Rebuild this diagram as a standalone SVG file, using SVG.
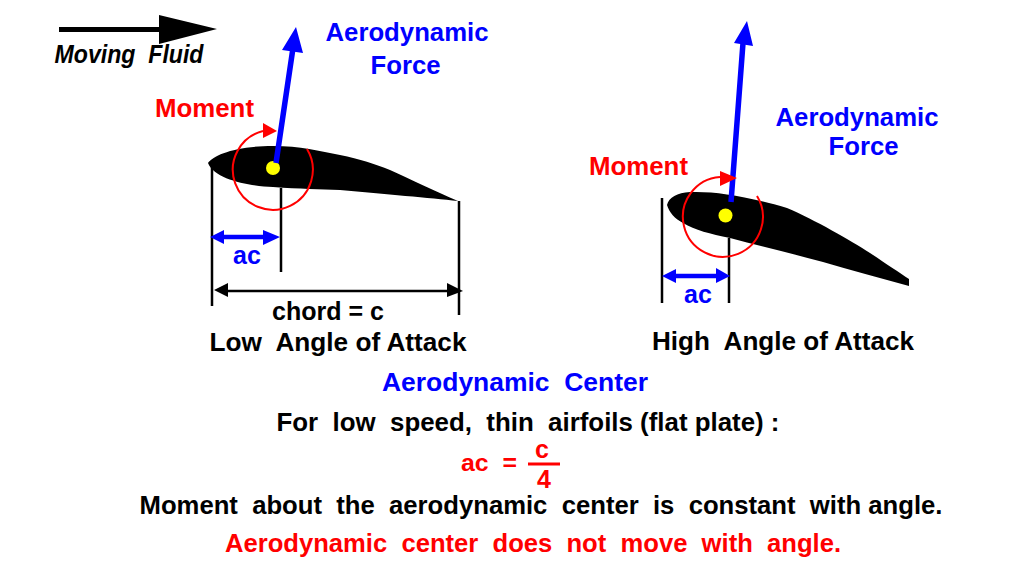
<svg xmlns="http://www.w3.org/2000/svg" width="1032" height="584" viewBox="0 0 1032 584">
<style>
text{font-family:"Liberation Sans",Arial,sans-serif;font-weight:700;font-size:25px;text-anchor:middle;white-space:pre}
.b{fill:#0000ff}.r{fill:#ff0000}.k{fill:#000}
.foil{fill:#000}
.dim{stroke:#000;stroke-width:2.500;fill:none}
.blue{stroke:#0000ff;fill:none}
.red{stroke:#ff0000;stroke-width:2;fill:none}
</style>
<rect width="1032" height="584" fill="#fff"/>
<g id="flow-arrow">
<path d="M59 27H159V15L217 29L159 44V32H59Z" fill="#000"/>
<text x="129" y="63" class="k" style="font-style:italic;font-size:25px" textLength="149" lengthAdjust="spacingAndGlyphs">Moving  Fluid</text>
</g>
<g id="airfoil-low">
<path class="foil" d="M208 163C214 155 235 146 273 146C300 146 320 151 340 155C360 159 375 164 390 170C410 179 435 191 458 201C430 198 385 194 340 190C320 189 300 189 273 187C250 186 215 180 208 163Z"/>
<circle cx="273" cy="168" r="7" fill="#ffff00"/>
</g>
<g id="airfoil-high">
<path class="foil" d="M667 205C669 197 677 193 690 192C715 191 745 196 787 208C815 220 850 240 870 253C885 263 900 273 909 279L909 286C880 278 850 270 823 262C790 253 760 246 730 238C710 234 695 230 683 223C675 219 669 212 667 205Z"/>
<circle cx="725.500" cy="215.500" r="7" fill="#ffff00"/>
</g>
<g id="connectors">
<g class="dim">
<path d="M212 165V306M281 188V272M459 201V315M220 291H455"/>
<path d="M662 198V303M729 238V303"/>
</g>
<path d="M214 290L228 283V297ZM463 291L447 283V297Z" fill="#000"/>
<path class="blue" stroke-width="5.500" d="M276 163L293 48M731 202L743 43"/>
<path class="blue" stroke-width="4.500" d="M218 237H270M670 276H722"/>
<path d="M296 27L303 53L282 50ZM747 21L753 46L734 43ZM210 237L224 230V244ZM280 237L263 230V245ZM662 276L676 269V283ZM730 276L716 268V283Z" fill="#0000ff"/>
<path class="red" d="M307 149A40 40 0 1 1 263 131"/>
<path class="red" d="M757 196A40 40 0 1 1 720 177"/>
<path d="M277 131L263 123V138ZM737 178L720 171V186Z" fill="#ff0000"/>
</g>
<g id="labels">
<text x="407" y="41" class="b" textLength="163" lengthAdjust="spacingAndGlyphs">Aerodynamic</text>
<text x="405.500" y="74" class="b" textLength="70" lengthAdjust="spacingAndGlyphs">Force</text>
<text x="204.500" y="117" class="r" textLength="99" lengthAdjust="spacingAndGlyphs">Moment</text>
<text x="247" y="264" class="b">ac</text>
<text x="328" y="320" class="k" textLength="112" lengthAdjust="spacingAndGlyphs">chord = c</text>
<text x="338" y="351" class="k" textLength="257" lengthAdjust="spacingAndGlyphs">Low  Angle of Attack</text>
<text x="857" y="126" class="b" textLength="163" lengthAdjust="spacingAndGlyphs">Aerodynamic</text>
<text x="863.500" y="155" class="b" textLength="70" lengthAdjust="spacingAndGlyphs">Force</text>
<text x="638.500" y="175" class="r" textLength="99" lengthAdjust="spacingAndGlyphs">Moment</text>
<text x="698" y="303" class="b">ac</text>
<text x="783" y="350" class="k" textLength="262" lengthAdjust="spacingAndGlyphs">High  Angle of Attack</text>
<text x="515" y="391" class="b" textLength="266" lengthAdjust="spacingAndGlyphs">Aerodynamic  Center</text>
<text x="528" y="431" class="k" textLength="503" lengthAdjust="spacingAndGlyphs">For  low  speed,  thin  airfoils (flat plate) :</text>
<text x="489" y="471" class="r" style="font-size:23px" textLength="56" lengthAdjust="spacingAndGlyphs">ac  =</text>
<text x="542" y="458" class="r">c</text>
<path d="M528 464H560" stroke="#ff0000" stroke-width="3"/>
<text x="544" y="488" class="r">4</text>
<text x="541" y="514" class="k" textLength="803" lengthAdjust="spacingAndGlyphs">Moment  about  the  aerodynamic  center  is  constant  with angle.</text>
<text x="533" y="552" class="r" textLength="616" lengthAdjust="spacingAndGlyphs">Aerodynamic  center  does  not  move  with  angle.</text>
</g>
</svg>
